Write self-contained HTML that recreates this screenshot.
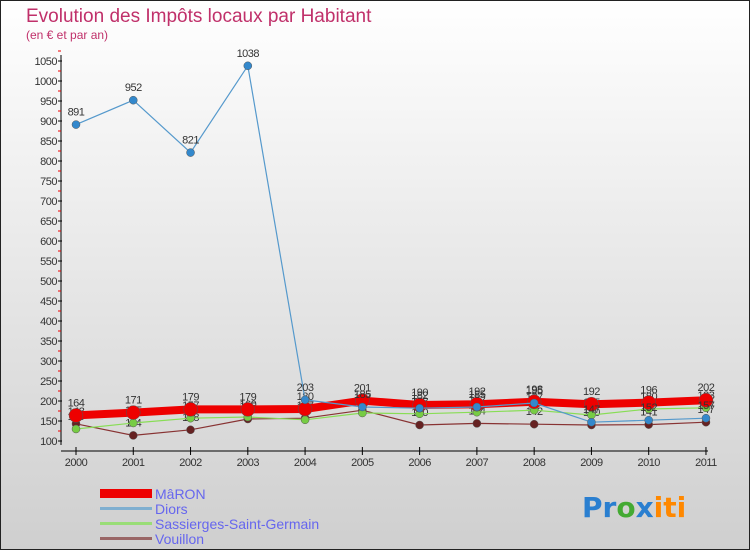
<!DOCTYPE html>
<html><head><meta charset="utf-8"><style>
body{margin:0;width:750px;height:550px;overflow:hidden;font-family:"Liberation Sans",sans-serif}
</style></head><body>
<svg width="750" height="550" xmlns="http://www.w3.org/2000/svg">
<defs><linearGradient id="bg" x1="0" y1="0" x2="0" y2="1"><stop offset="0" stop-color="#ffffff"/><stop offset="1" stop-color="#cfcfcf"/></linearGradient></defs>
<rect x="0.5" y="0.5" width="749" height="549" fill="url(#bg)" stroke="#222"/>
<text x="26" y="22" font-size="19" fill="#c0306a">Evolution des Impôts locaux par Habitant</text>
<text x="26" y="39" font-size="12" fill="#c0306a">(en € et par an)</text>
<g id="axes"></g>
<g id="series"></g>
<g>
<rect x="100" y="489" width="52" height="9" fill="#e00"/>
<text x="155" y="499" font-size="14" fill="#6666ee">MâRON</text>
<rect x="100" y="507" width="52" height="3" fill="#7fafd0"/>
<text x="155" y="514" font-size="14" fill="#6666ee">Diors</text>
<rect x="100" y="522" width="52" height="3" fill="#99dd77"/>
<text x="155" y="529" font-size="14" fill="#6666ee">Sassierges-Saint-Germain</text>
<rect x="100" y="537" width="52" height="3" fill="#996666"/>
<text x="155" y="544" font-size="14" fill="#6666ee">Vouillon</text>
</g>
<g font-size="28" font-weight="bold" font-family="'DejaVu Sans',sans-serif">
<text x="582" y="517"><tspan fill="#2a7fd0">Pr</tspan><tspan fill="#44aa33">o</tspan><tspan fill="#2a7fd0">x</tspan><tspan fill="#ff8800">iti</tspan></text>
</g>
</svg>
<script>
const years=[2000,2001,2002,2003,2004,2005,2006,2007,2008,2009,2010,2011];
const maron=[164,171,179,179,180,201,190,192,198,192,196,202];
const diors=[891,952,821,1038,203,185,182,185,195,147,152,157];
const sassierges=[130,145,157,160,153,170,168,172,177,165,180,183];
const vouillon=[143,114,128,155,157,177,140,144,142,140,141,147];
const yTicks=[100,150,200,250,300,350,400,450,500,550,600,650,700,750,800,850,900,950,1000,1050];
const NS="http://www.w3.org/2000/svg";
const xS=i=>76+i*57.27;
const yS=v=>441-(v-100)*0.4;
function mk(t,a,p){const e=document.createElementNS(NS,t);for(const k in a)e.setAttribute(k,a[k]);p.appendChild(e);return e;}
const ax=document.getElementById('axes');
const yl=mk('line',{x1:61,y1:55,x2:61,y2:445,stroke:'#000'},ax);


const xl=mk('line',{x1:61,y1:451,x2:708,y2:451,stroke:'#000'},ax);


yTicks.forEach(v=>{
 mk('line',{x1:58,y1:yS(v),x2:62,y2:yS(v),stroke:'#000'},ax);
 mk('line',{x1:58,y1:yS(v+25),x2:61,y2:yS(v+25),stroke:'#e00'},ax);
 const t=mk('text',{x:57,y:yS(v)+4,'font-size':11,'text-anchor':'end',fill:'#333','letter-spacing':'-0.5'},ax);
 t.textContent=v;
 
 
});
years.forEach((y,i)=>{
 mk('line',{x1:xS(i),y1:447,x2:xS(i),y2:455,stroke:'#000'},ax);
 const t=mk('text',{x:xS(i),y:466,'font-size':11,'text-anchor':'middle',fill:'#333','letter-spacing':'-0.5'},ax);
 t.textContent=y;
 
 
});
const sg=document.getElementById('series');
function series(data,name,color,w,r,dot){
 const g=mk('g',{},sg);
 
 
 const pl=mk('polyline',{points:data.map((v,i)=>xS(i)+','+yS(v)).join(' '),fill:'none',stroke:color,'stroke-width':w},g);
 
 
 data.forEach((v,i)=>{
  const c=mk('circle',{cx:xS(i),cy:yS(v),r:r,fill:dot,stroke:'#555','stroke-width':0.5},g);
  
  
  const t=mk('text',{x:xS(i),y:yS(v)-9,'font-size':11,'text-anchor':'middle',fill:'#333','letter-spacing':'-0.5'},g);
  t.textContent=v;
  
  
 });
}
series(vouillon,'vouillon','#883333',1.2,4,'#662222');
series(sassierges,'sassierges','#88dd55',1.2,4,'#77cc44');
series(maron,'maron','#ee0000',8,7,'#ee0000');
series(diors,'diors','#5599cc',1.2,4,'#3388cc');
</script>
</body></html>
